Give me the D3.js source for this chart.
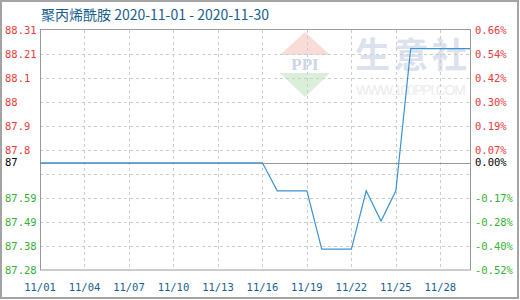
<!DOCTYPE html>
<html>
<head>
<meta charset="utf-8">
<script src="https://cdn.jsdelivr.net/npm/d3@7"></script>
<style>
  body { margin: 0; background: #fff; }
  svg { display: block; }
</style>
</head>
<body>
<svg id="chart" width="520" height="300"></svg>
<script>
const title = "聚丙烯酰胺 2020-11-01 - 2020-11-30";

// daily prices, 11/01 .. 11/30
const days = d3.range(1, 31).map(d => `2020-11-${String(d).padStart(2, "0")}`);
const prices = [
  87.74, 87.74, 87.74, 87.74, 87.74, 87.74, 87.74, 87.74, 87.74, 87.74,
  87.74, 87.74, 87.74, 87.74, 87.74, 87.74, 87.62, 87.62, 87.62, 87.37,
  87.37, 87.37, 87.62, 87.49, 87.62, 88.23, 88.23, 88.23, 88.23, 88.23
];

const xTicks = ["11/01", "11/04", "11/07", "11/10", "11/13", "11/16", "11/19", "11/22", "11/25", "11/28"];
const leftTicks = [87.28, 87.383, 87.486, 87.589, 87.692, 87.795, 87.898, 88.001, 88.104, 88.207, 88.31];
const leftLabels = ["87.28", "87.38", "87.49", "87.59", "", "87.8", "87.9", "88", "88.1", "88.21", "88.31"];
const rightTicks = [-0.52, -0.402, -0.284, -0.166, -0.048, 0.07, 0.188, 0.306, 0.424, 0.542, 0.66];
const rightLabels = ["-0.52%", "-0.40%", "-0.28%", "-0.17%", "", "0.07%", "0.19%", "0.30%", "0.42%", "0.54%", "0.66%"];
const baseLabel = "87";
const basePctLabel = "0.00%";

const parse = d3.timeParse("%Y-%m-%d");
const data = days.map((d, i) => ({ date: parse(d), value: prices[i] }));
const base = prices[0];

const svg = d3.select("#chart");
const m = { left: 40, right: 470, top: 30, bottom: 270 };

const x = d3.scaleTime()
  .domain([parse("2020-11-01"), parse("2020-11-30")])
  .range([m.left, m.right]);
const y = d3.scaleLinear().domain([87.28, 88.31]).range([m.bottom, m.top]);
const yPct = d3.scaleLinear().domain([-0.52, 0.66]).range([m.bottom, m.top]);

const mono = "'DejaVu Sans Mono', monospace";
const red = "#f03a3a", green = "#36b036", blue = "#17608f";

// outer frame
svg.append("rect")
  .attr("x", 1).attr("y", 1).attr("width", 517).attr("height", 297)
  .attr("fill", "none").attr("stroke", "#a3a3a3").attr("stroke-width", 2);

// watermark
const wm = svg.append("g");
wm.append("path").attr("d", "M305,32 L330,55 L280,55 Z").attr("fill", "#f9dcd8");
wm.append("path").attr("d", "M280,73 L330,73 L305,97 Z").attr("fill", "#d9efda");
wm.append("text").attr("x", 305).attr("y", 70).attr("text-anchor", "middle")
  .style("font", "bold 17px 'Liberation Serif', serif").attr("fill", "#cdd5e6").text("PPI");
wm.append("text").attr("x", 355).attr("y", 68)
  .style("font", "bold 35px 'Noto Sans CJK SC'").attr("fill", "#dce1ee")
  .attr("textLength", 112).text("生意社");
wm.append("text").attr("x", 356).attr("y", 95)
  .style("font", "14px 'Liberation Sans', sans-serif").attr("fill", "#ececec")
  .attr("textLength", 110).text("WWW.100PPI.COM");

// grid
const grid = svg.append("g").attr("stroke", "#cccccc").attr("stroke-dasharray", "3,3");
grid.selectAll(".gy").data(leftTicks.slice(1, -1)).join("line")
  .attr("x1", m.left).attr("x2", m.right)
  .attr("y1", d => Math.round(y(d)) + 0.5).attr("y2", d => Math.round(y(d)) + 0.5);
const tickDates = xTicks.map(t => parse("2020-" + t.replace("/", "-")));
grid.selectAll(".gx").data(tickDates.slice(1)).join("line")
  .attr("y1", m.top).attr("y2", m.bottom)
  .attr("x1", d => Math.round(x(d)) + 0.5).attr("x2", d => Math.round(x(d)) + 0.5);

// plot frame
svg.append("rect")
  .attr("x", m.left + 0.5).attr("y", m.top - 0.5)
  .attr("width", m.right - m.left).attr("height", m.bottom - m.top + 0.5)
  .attr("fill", "none").attr("stroke", "#999");

// base line
svg.append("line")
  .attr("x1", m.left).attr("x2", m.right)
  .attr("y1", Math.round(y(base)) + 0.5).attr("y2", Math.round(y(base)) + 0.5)
  .attr("stroke", "#999");

// price line
svg.append("path").datum(data)
  .attr("fill", "none").attr("stroke", "#3b93d3").attr("stroke-width", 1.2)
  .attr("d", d3.line().x(d => x(d.date)).y(d => y(d.value)));

// left labels
svg.append("g").selectAll("text").data(leftTicks).join("text")
  .attr("x", 5).attr("y", d => y(d)).attr("dy", "0.35em")
  .style("font", `10.5px ${mono}`)
  .attr("fill", d => d > base ? red : green)
  .text((d, i) => leftLabels[i]);
svg.append("text").attr("x", 5).attr("y", y(base)).attr("dy", "0.35em")
  .style("font", `10.5px ${mono}`).attr("fill", "#000").text(baseLabel);

// right labels
svg.append("g").selectAll("text").data(rightTicks).join("text")
  .attr("x", 475).attr("y", d => yPct(d)).attr("dy", "0.35em")
  .style("font", `10.5px ${mono}`)
  .attr("fill", d => d > 0 ? red : green)
  .text((d, i) => rightLabels[i]);
svg.append("text").attr("x", 475).attr("y", y(base)).attr("dy", "0.35em")
  .style("font", `10.5px ${mono}`).attr("fill", "#000").text(basePctLabel);

// x labels
svg.append("g").selectAll("text").data(tickDates).join("text")
  .attr("x", d => x(d)).attr("y", 291).attr("text-anchor", "middle")
  .style("font", `10.5px ${mono}`).attr("fill", blue)
  .text((d, i) => xTicks[i]);

// title
svg.append("text").attr("x", 41).attr("y", 20)
  .style("font", "14px 'Noto Sans CJK SC', sans-serif").attr("fill", blue)
  .text(title);
</script>
</body>
</html>
